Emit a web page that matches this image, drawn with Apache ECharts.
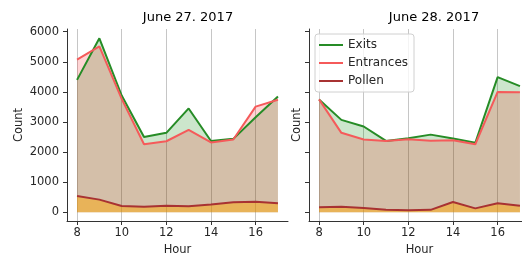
<!DOCTYPE html>
<html>
<head>
<meta charset="utf-8">
<script src="https://cdn.jsdelivr.net/npm/echarts@6/dist/echarts.min.js"></script>
<style>
  html, body { margin: 0; padding: 0; background: #fff; overflow: hidden; }
  #chart { width: 532px; height: 256px; }
</style>
</head>
<body>
<div id="chart"></div>
<script>
// hours of the day (x axis)
const hours = [8, 9, 10, 11, 12, 13, 14, 15, 16, 17];
const xTicks = [8, 10, 12, 14, 16];
const yTicks = [0, 1000, 2000, 3000, 4000, 5000, 6000];
const titles = ['June 27. 2017', 'June 28. 2017'];

// June 27
const exits27 = [4400, 5780, 3880, 2500, 2640, 3450, 2370, 2440, 3160, 3850];
const entrances27 = [5070, 5510, 3770, 2260, 2360, 2740, 2320, 2420, 3510, 3740];
const pollen27 = [540, 420, 210, 180, 220, 200, 260, 330, 350, 300];

// June 28
const exits28 = [3750, 3070, 2850, 2370, 2460, 2580, 2450, 2310, 4490, 4190];
const entrances28 = [3750, 2640, 2420, 2370, 2430, 2380, 2390, 2260, 4000, 3990];
const pollen28 = [170, 180, 140, 80, 70, 80, 340, 130, 300, 220];

const FONT = 'DejaVu Sans';
const pairs = vals => hours.map((h, i) => [h, vals[i]]);

function lineSeries(name, vals, idx, lineColor, area) {
  return {
    name: name,
    type: 'line',
    xAxisIndex: idx,
    yAxisIndex: idx,
    data: pairs(vals),
    showSymbol: false,
    symbol: 'none',
    color: lineColor,
    lineStyle: { color: lineColor, width: 2 },
    itemStyle: { color: lineColor },
    areaStyle: area,
    emphasis: { disabled: true },
    animation: false
  };
}

function seriesFor(idx, ex, en, po) {
  return [
    lineSeries('Exits', ex, idx, '#268c26', { color: 'rgb(0,128,0)', opacity: 0.2 }),
    lineSeries('Entrances', en, idx, '#f55a5a', { color: 'rgb(255,0,0)', opacity: 0.17 }),
    lineSeries('Pollen', po, idx, '#a83232', { color: 'rgb(255,165,0)', opacity: 0.47 })
  ];
}

function xAxis(idx) {
  return {
    type: 'value',
    gridIndex: idx,
    min: 7.55,
    max: 17.45,
    name: 'Hour',
    nameLocation: 'middle',
    nameGap: 21,
    nameTextStyle: { fontFamily: FONT, fontSize: 11.5, color: '#262626' },
    axisLine: { onZero: false, lineStyle: { color: '#333', width: 1 } },
    axisTick: { show: true, length: 4, customValues: xTicks, lineStyle: { color: '#333' } },
    axisLabel: { customValues: xTicks, margin: 6, fontFamily: FONT, fontSize: 11.5, color: '#262626' },
    splitLine: { show: true, lineStyle: { color: '#c6c6c6', width: 1 } }
  };
}

function yAxis(idx, showLabels) {
  return {
    type: 'value',
    gridIndex: idx,
    min: -290,
    max: 6090,
    name: 'Count',
    nameLocation: 'middle',
    nameRotate: 90,
    nameGap: showLabels ? 42 : 6,
    nameTextStyle: { fontFamily: FONT, fontSize: 11.5, color: '#262626' },
    axisLine: { show: true, onZero: false, lineStyle: { color: '#333', width: 1 } },
    axisTick: { show: true, length: 4, customValues: yTicks, lineStyle: { color: '#333' } },
    axisLabel: { show: showLabels, customValues: yTicks, margin: 8, formatter: v => String(v),
      fontFamily: FONT, fontSize: 11.5, color: '#262626' },
    splitLine: { show: false }
  };
}

const chart = echarts.init(document.getElementById('chart'), null, { renderer: 'canvas' });

const option = {
  backgroundColor: '#fff',
  animation: false,
  title: [
    { text: titles[0], left: 183, top: 6, textAlign: 'center',
      textStyle: { fontFamily: FONT, fontSize: 13, fontWeight: 'normal', color: '#000' } },
    { text: titles[1], left: 429, top: 6, textAlign: 'center',
      textStyle: { fontFamily: FONT, fontSize: 13, fontWeight: 'normal', color: '#000' } }
  ],
  legend: {
    data: ['Exits', 'Entrances', 'Pollen'],
    orient: 'vertical',
    left: 315,
    top: 34,
    icon: 'rect',
    itemWidth: 24,
    itemHeight: 2,
    itemGap: 4,
    padding: [4, 6, 4, 4],
    backgroundColor: 'rgba(255,255,255,0.8)',
    borderColor: '#d0d0d0',
    borderWidth: 1,
    borderRadius: 3,
    selectedMode: false,
    textStyle: { fontFamily: FONT, fontSize: 12, color: '#262626', lineHeight: 14 }
  },
  grid: [
    { left: 67, top: 29, width: 221, height: 192, outerBoundsMode: 'none', containLabel: false },
    { left: 309, top: 29, width: 221, height: 192, outerBoundsMode: 'none', containLabel: false }
  ],
  xAxis: [xAxis(0), xAxis(1)],
  yAxis: [yAxis(0, true), yAxis(1, false)],
  series: seriesFor(0, exits27, entrances27, pollen27)
    .concat(seriesFor(1, exits28, entrances28, pollen28))
};

chart.setOption(option);
</script>
</body>
</html>
